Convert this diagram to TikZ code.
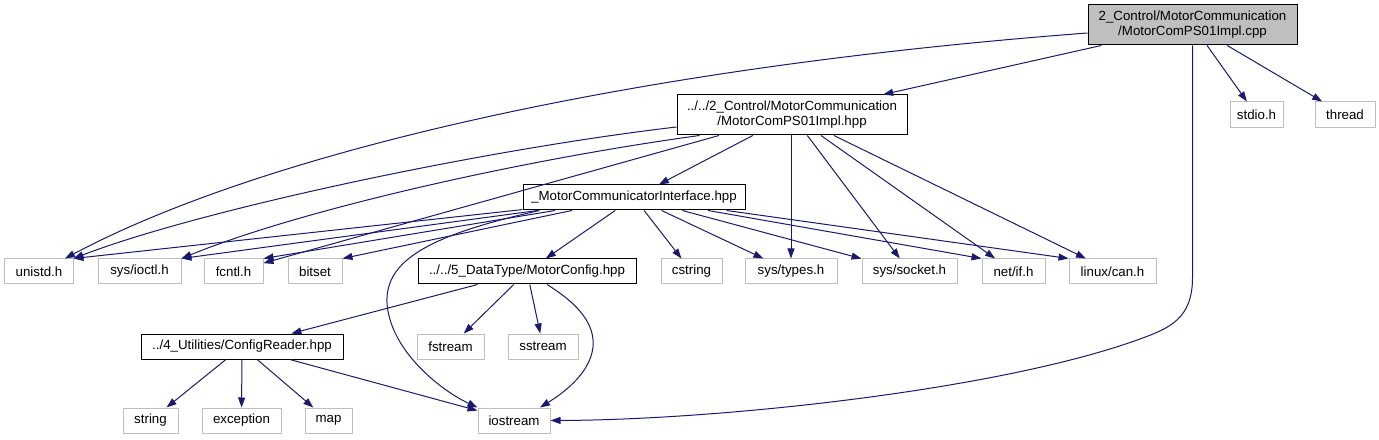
\documentclass[tikz,border=0pt]{standalone}
\usepackage{fontspec}
\setmainfont{Liberation Sans}
\usetikzlibrary{arrows.meta,calc}
\definecolor{edgeblue}{HTML}{191970}
\definecolor{leafgray}{HTML}{BFBFBF}
\begin{document}
\begin{tikzpicture}[x=1bp,y=-1bp,
  every node/.style={font=\fontsize{13.3bp}{15bp}\selectfont, inner sep=0pt, text=black},
  leaf/.style={draw=leafgray, line width=1bp, fill=white},
  inbox/.style={draw=black, line width=1bp, fill=white},
  rootbox/.style={draw=black, line width=1bp, fill=leafgray},
  dep/.style={draw=edgeblue, line width=1bp, -{Triangle[length=10bp,width=7bp]}},
]
\useasboundingbox (0,0) rectangle (1379,440);
% nodes
\node[rootbox, minimum width=209bp, minimum height=40bp, align=center] (root) at (1192.5,25) {2\_Control/MotorCommunication\\/MotorComPS01Impl.cpp};
\node[inbox, minimum width=230bp, minimum height=40bp, align=center] (hpp1) at (792,115) {../../2\_Control/MotorCommunication\\/MotorComPS01Impl.hpp};
\node[leaf, minimum width=53bp, minimum height=26bp] (stdio) at (1256.5,115) {stdio.h};
\node[leaf, minimum width=60bp, minimum height=26bp] (thread) at (1345,115) {thread};
\node[inbox, minimum width=222bp, minimum height=25bp] (iface) at (634,197.5) {\_MotorCommunicatorInterface.hpp};
\node[leaf, minimum width=68bp, minimum height=25bp] (unistd) at (39,271.5) {unistd.h};
\node[leaf, minimum width=83bp, minimum height=25bp] (ioctl) at (139.5,271.5) {sys/ioctl.h};
\node[leaf, minimum width=59bp, minimum height=25bp] (fcntl) at (233.5,271.5) {fcntl.h};
\node[leaf, minimum width=54bp, minimum height=25bp] (bitset) at (315,271.5) {bitset};
\node[inbox, minimum width=218bp, minimum height=25bp] (mconf) at (527,271.5) {../../5\_DataType/MotorConfig.hpp};
\node[leaf, minimum width=61bp, minimum height=25bp] (cstring) at (691.5,271.5) {cstring};
\node[leaf, minimum width=92bp, minimum height=25bp] (systypes) at (791,271.5) {sys/types.h};
\node[leaf, minimum width=95bp, minimum height=25bp] (syssocket) at (909.5,271.5) {sys/socket.h};
\node[leaf, minimum width=63bp, minimum height=25bp] (netif) at (1013.5,271.5) {net/if.h};
\node[leaf, minimum width=87bp, minimum height=25bp] (linuxcan) at (1112.5,271.5) {linux/can.h};
\node[inbox, minimum width=202bp, minimum height=25bp] (creader) at (242,346.5) {../4\_Utilities/ConfigReader.hpp};
\node[leaf, minimum width=67bp, minimum height=25bp] (fstream) at (450.5,346.5) {fstream};
\node[leaf, minimum width=70bp, minimum height=25bp] (sstream) at (543,346.5) {sstream};
\node[leaf, minimum width=55bp, minimum height=25bp] (string) at (150.5,420.5) {string};
\node[leaf, minimum width=79bp, minimum height=25bp] (exception) at (241.5,420.5) {exception};
\node[leaf, minimum width=47bp, minimum height=25bp] (map) at (328.5,420.5) {map};
\node[leaf, minimum width=72bp, minimum height=25bp] (iostream) at (514,420.5) {iostream};
% root edges
\draw[dep] (root) -- (hpp1);
\draw[dep] ($(root.west)+(0,8)$) .. controls (600,70) and (250,160) .. ($(unistd.north)+(26,0)$);
\draw[dep] (root) -- (stdio);
\draw[dep] (root) -- (thread);
\draw[dep] (root.south) -- ($(root.south)+(0,232)$) .. controls ($(root.south)+(0,273)$) and (1170,328) .. (1140,339) .. controls (1000,390) and (720,420) .. (iostream.east);
% hpp1 edges
\draw[dep] (hpp1) -- (iface);
\draw[dep] ($(hpp1.west)+(0,12)$) .. controls (480,150) and (200,210) .. (unistd.north east);
\draw[dep] ($(hpp1.south west)+(23,0)$) .. controls (520,160) and (300,210) .. (ioctl.north east);
\draw[dep] (hpp1) -- (fcntl);
\draw[dep] (systypes.north |- hpp1.south) -- (systypes.north);
\draw[dep] (hpp1) -- (syssocket);
\draw[dep] (hpp1) -- (netif);
\draw[dep] (hpp1) -- (linuxcan);
% interface edges
\draw[dep] (iface) -- (unistd.north east);
\draw[dep] (iface) -- (ioctl.north east);
\draw[dep] (iface) -- (fcntl.north east);
\draw[dep] (iface) -- (bitset.north east);
\draw[dep] (iface) -- (mconf);
\draw[dep] (iface) -- (cstring);
\draw[dep] (iface) -- (systypes);
\draw[dep] (iface) -- (syssocket);
\draw[dep] (iface) -- (netif.north west);
\draw[dep] (iface) -- (linuxcan.north west);
\draw[dep] ($(iface.south west)+(17,0)$) .. controls (430,235) and (385,260) .. (387,303) .. controls (390,350) and (440,390) .. (iostream.north west);
% motorconfig edges
\draw[dep] (mconf) -- (creader);
\draw[dep] (mconf) -- (fstream);
\draw[dep] (mconf) -- (sstream);
\draw[dep] ($(mconf.south)+(20,0)$) .. controls (580,305) and (595,325) .. (593,347) .. controls (590,375) and (560,395) .. ($(iostream.north)+(26,0)$);
% configreader edges
\draw[dep] (creader) -- (string);
\draw[dep] (creader) -- (exception);
\draw[dep] (creader) -- (map);
\draw[dep] (creader) -- (iostream);
\end{tikzpicture}
\end{document}
